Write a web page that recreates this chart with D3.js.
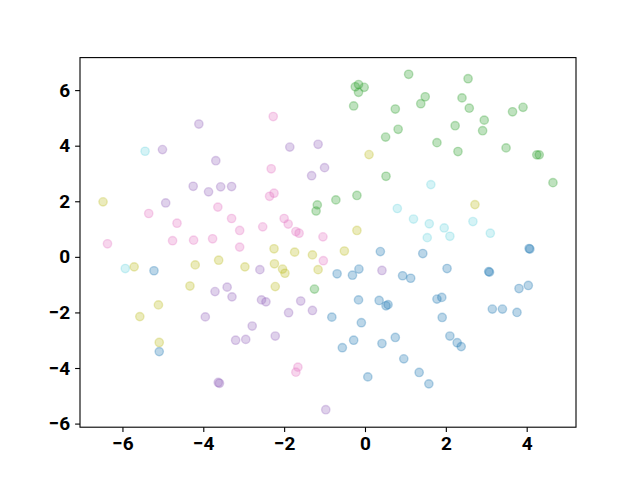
<!DOCTYPE html>
<html>
<head>
<meta charset="utf-8">
<script src="https://cdn.jsdelivr.net/npm/d3@7"></script>
<style>
  body { margin: 0; background: #fff; }
  svg text { font-family: Roboto, sans-serif; font-weight: bold; font-size: 19px; fill: #000; }
</style>
</head>
<body>
<div id="chart"></div>
<script>
// points per group, [x, y]
const bluePts = [
    [-5.22, -0.50], [-5.09, -3.41], [-0.82, -2.17], [-0.09, -2.37], [-0.56, -3.27],
    [-0.28, -3.00], [0.42, -3.12], [0.75, -2.90], [0.96, -3.67], [0.07, -4.32],
    [-0.16, -1.55], [0.35, -1.57], [0.52, -1.76], [0.57, -1.72], [0.38, 0.19],
    [-0.69, -0.61], [-0.31, -0.66], [-0.15, -0.44], [0.93, -0.68], [1.13, -0.77],
    [1.43, 0.12], [2.03, -0.42], [3.06, -0.53], [3.08, -0.55], [4.06, 0.30],
    [4.08, 0.28], [3.81, -1.14], [4.04, -1.03], [1.78, -1.52], [1.90, -1.46],
    [1.91, -2.18], [3.15, -1.88], [3.40, -1.88], [3.76, -2.00], [2.10, -2.85],
    [2.28, -3.09], [2.38, -3.23], [1.34, -4.16], [1.58, -4.57]
];
const greenPts = [
    [1.08, 6.57], [-0.24, 6.12], [-0.16, 6.20], [-0.02, 6.10], [-0.16, 5.92],
    [-0.28, 5.43], [0.75, 5.32], [0.82, 4.59], [0.51, 4.31], [0.52, 2.90],
    [2.55, 6.41], [1.49, 5.76], [1.38, 5.51], [2.40, 5.72], [2.58, 5.35],
    [3.65, 5.22], [3.91, 5.38], [2.95, 4.92], [2.91, 4.54], [2.23, 4.72],
    [1.78, 4.11], [2.30, 3.79], [3.49, 3.92], [4.25, 3.67], [4.31, 3.67],
    [4.65, 2.67], [-1.18, 1.87], [-1.21, 1.65], [-0.72, 2.05], [-0.20, 2.21],
    [-1.25, -1.16]
];
const purplePts = [
    [-5.01, 3.86], [-4.11, 4.78], [-3.69, 3.46], [-4.25, 2.54], [-3.87, 2.34],
    [-3.57, 2.52], [-3.30, 2.53], [-4.93, 1.94], [-3.71, -1.25], [-3.41, -1.09],
    [-3.29, -1.44], [-3.95, -2.16], [-3.20, -3.00], [-2.95, -2.97], [-2.79, -2.49],
    [-3.63, -4.52], [-3.60, -4.55], [-2.56, -1.55], [-2.45, -1.62], [-1.59, -1.59],
    [-1.89, -2.01], [-1.30, -1.93], [-2.22, -2.85], [-0.97, -5.50], [-1.86, 3.95],
    [-1.16, 4.05], [-1.32, 2.92], [-1.00, 3.21], [-2.60, -0.46], [0.42, -0.49]
];
const pinkPts = [
    [-2.27, 5.05], [-2.32, 3.17], [-3.64, 1.79], [-5.35, 1.56], [-4.65, 1.21],
    [-3.30, 1.38], [-3.10, 0.95], [-6.37, 0.47], [-4.76, 0.58], [-4.24, 0.60],
    [-3.77, 0.65], [-3.10, 0.35], [-2.36, 2.18], [-2.25, 2.29], [-2.00, 1.38],
    [-1.90, 1.18], [-2.53, 1.08], [-1.71, 0.91], [-1.63, 0.85], [-1.04, 0.72],
    [-1.03, -0.14], [-1.66, -3.97], [-1.71, -4.15]
];
const olivePts = [
    [-6.48, 1.98], [-5.71, -0.36], [-4.20, -0.29], [-3.62, -0.12], [-2.97, -0.36],
    [-4.33, -1.05], [-5.11, -1.73], [-5.57, -2.15], [-5.09, -3.08], [0.10, 3.68],
    [-0.20, 0.95], [-2.25, 0.29], [-1.74, 0.17], [-1.30, 0.07], [-0.51, 0.21],
    [-2.24, -0.25], [-2.04, -0.44], [-1.98, -0.59], [-1.16, -0.46], [-2.22, -1.07],
    [2.72, 1.88]
];
const cyanPts = [
    [-5.44, 3.80], [-5.93, -0.42], [1.63, 2.60], [0.80, 1.74], [1.20, 1.36],
    [1.59, 1.19], [1.96, 1.04], [1.54, 0.69], [2.10, 0.74], [2.67, 1.27],
    [3.10, 0.85]
];
const xTicks = [-6, -4, -2, 0, 2, 4];
const yTicks = [-6, -4, -2, 0, 2, 4, 6];

const groups = [
    { pts: bluePts, color: "#1f77b4", alpha: 0.3 },
    { pts: greenPts, color: "#2ca02c", alpha: 0.3 },
    { pts: purplePts, color: "#9467bd", alpha: 0.3 },
    { pts: pinkPts, color: "#e377c2", alpha: 0.3 },
    { pts: olivePts, color: "#bcbd22", alpha: 0.3 },
    { pts: cyanPts, color: "#17becf", alpha: 0.18 }
];

const width = 640, height = 480;
const margin = { top: 57.6, right: 64, bottom: 52.8, left: 80 };

const svg = d3.select("#chart").append("svg")
    .attr("width", width)
    .attr("height", height);

const x = d3.scaleLinear().domain([-7.05, 5.22]).range([margin.left, width - margin.right]);
const y = d3.scaleLinear().domain([-6.13, 7.17]).range([height - margin.bottom, margin.top]);

const fmt = d => d3.format("d")(d).replace("-", "\u2212");

groups.forEach(g => {
    svg.append("g")
        .selectAll("circle")
        .data(g.pts)
        .enter()
        .append("circle")
        .attr("cx", d => x(d[0]))
        .attr("cy", d => y(d[1]))
        .attr("r", 4.17)
        .attr("fill", g.color)
        .attr("fill-opacity", g.alpha)
        .attr("stroke", g.color)
        .attr("stroke-opacity", g.alpha)
        .attr("stroke-width", 1.4);
});

const xAxis = svg.append("g")
    .attr("transform", `translate(0,${height - margin.bottom})`)
    .call(d3.axisBottom(x).tickValues(xTicks).tickFormat(fmt).tickSize(4.9).tickPadding(4.9));
const yAxis = svg.append("g")
    .attr("transform", `translate(${margin.left},0)`)
    .call(d3.axisLeft(y).tickValues(yTicks).tickFormat(fmt).tickSize(4.9).tickPadding(4.9));

[xAxis, yAxis].forEach(a => {
    a.select(".domain").remove();
    a.selectAll("line").attr("stroke", "#000").attr("stroke-width", 1.1);
    a.selectAll("text").attr("font-family", null).attr("font-size", null);
});

// frame
svg.append("rect")
    .attr("x", margin.left)
    .attr("y", margin.top)
    .attr("width", width - margin.left - margin.right)
    .attr("height", height - margin.top - margin.bottom)
    .attr("fill", "none")
    .attr("stroke", "#000")
    .attr("stroke-width", 1.1);
</script>
</body>
</html>
